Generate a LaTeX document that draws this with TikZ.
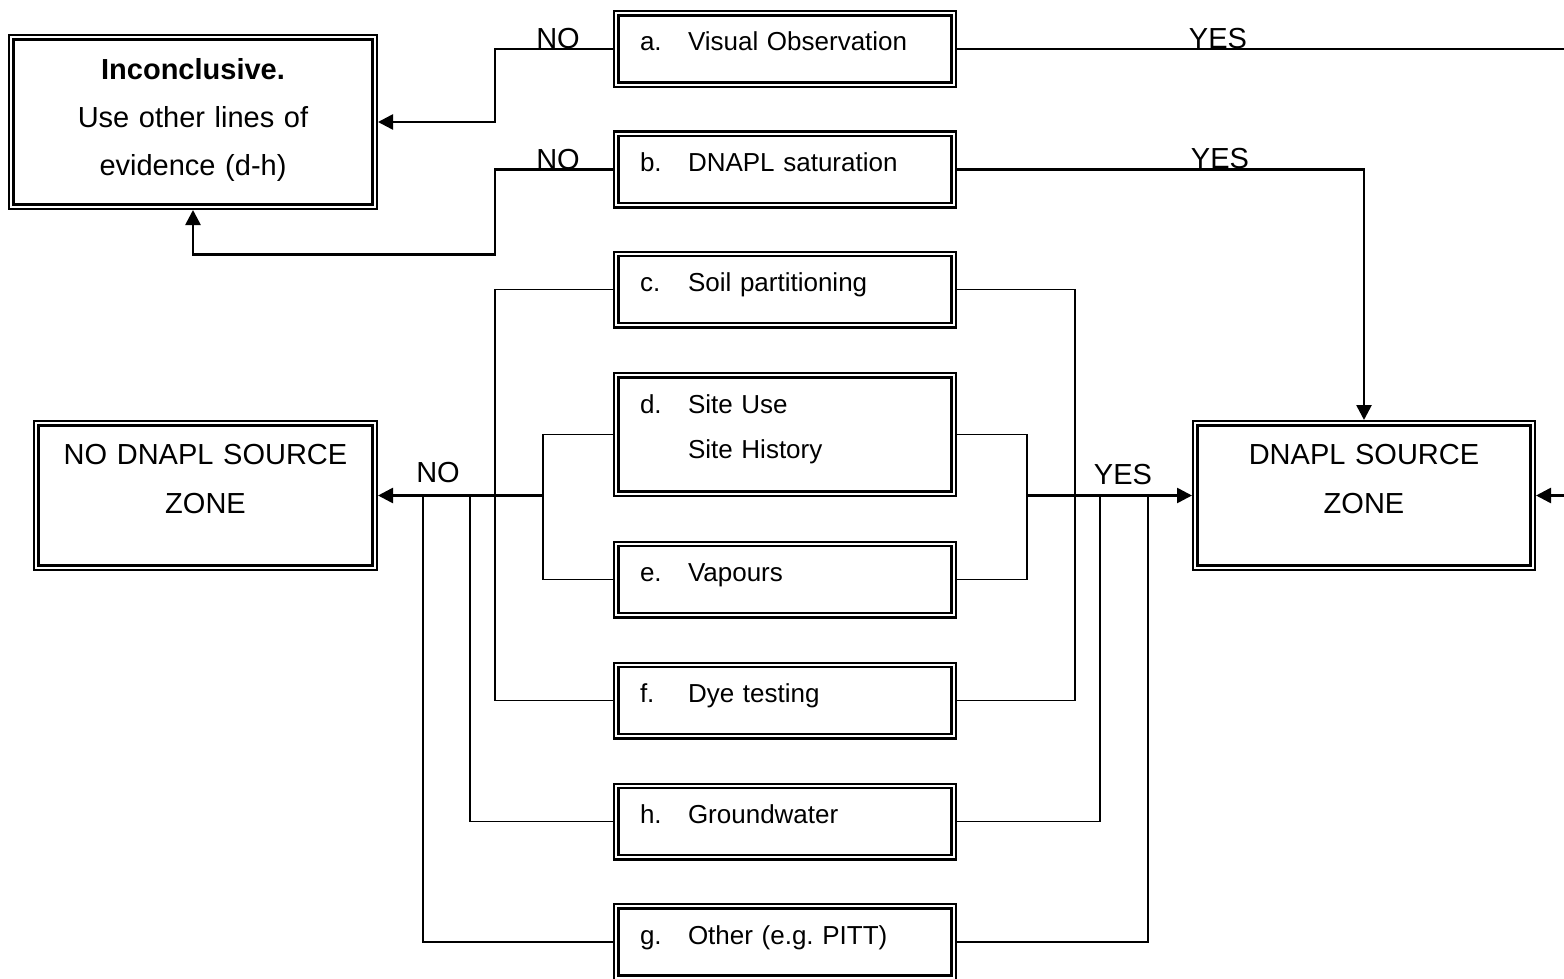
\documentclass[tikz,border=0pt]{standalone}
\usepackage{fontspec}
\setmainfont{Liberation Sans}
\usepackage{tikz}
\usetikzlibrary{
  positioning,
  arrows.meta
}
\newcommand{\tabto}[1]{\makebox[24pt][l]{#1}}
\frenchspacing

\begin{document}
\begin{tikzpicture}[x=0.5pt,y=-0.5pt,>={Triangle[length=7.5pt,width=7.5pt]},
    frame/.style={draw,double,double distance=1pt,line width=1.15pt,outer sep=1.65pt,inner ysep=0pt},
    testbox/.style={frame,inner xsep=11.85pt,text width=145pt,align=left,
      text height=18.85pt,text depth=16.85pt,font=\fontsize{13}{22.5}\selectfont},
    outcome/.style={frame,inner xsep=0pt,align=center,
      text height=20.35pt,text depth=51.85pt,font=\fontsize{14.5}{24.5}\selectfont},
    link/.style={line width=1.3pt},
    branch/.style={line width=0.85pt},
    tag/.style={inner sep=0pt,font=\fontsize{14.5}{17}\selectfont}]
        \useasboundingbox (0,0) rectangle (1564,979);
        % outcomes
        \node[outcome,text width=181.7pt,text height=21.35pt,text depth=63.35pt,
          font=\fontsize{14.5}{24}\selectfont] (incl) at (193,122)
          {{\bfseries Inconclusive.}\\Use other lines of\\evidence (d-h)};
        \node[outcome,text width=169.2pt] (nosrc) at (205.5,495.5) {NO DNAPL SOURCE\\ZONE};
        \node[outcome,text width=168.7pt] (src) at (1364,495.5) {DNAPL SOURCE\\ZONE};
        % lines of evidence
        \node[testbox] (a) at (785,49) {\tabto{a.}Visual Observation};
        \node[testbox] (b) at (785,169.5) {\tabto{b.}DNAPL saturation};
        \node[testbox] (c) at (785,289.5) {\tabto{c.}Soil partitioning};
        \node[testbox,text depth=40.35pt] (d) at (785,434.5) {\tabto{d.}Site Use\\\tabto{}Site History};
        \node[testbox] (e) at (785,579.5) {\tabto{e.}Vapours};
        \node[testbox] (f) at (785,700.5) {\tabto{f.}Dye testing};
        \node[testbox] (h) at (785,821.5) {\tabto{h.}Groundwater};
        \node[testbox] (g) at (785,942) {\tabto{g.}Other (e.g. PITT)};
        % a and b
        \coordinate (aout) at (1564,49);
        \coordinate (rin) at (1564,495.5);
        \draw[link,->] (a.west) -- ++(-118,0) |- (incl.east);
        \draw[link,->] (b.west) -- ++(-118,0) -- ++(0,85) -| (incl.south);
        \draw[link] (a.east) -- (aout);
        \draw[link,->] (b.east) -| (src.north);
        \draw[link,->] (rin) -- (src.east);
        \node[tag] (no1) at (558,39) {NO};
        \node[tag] (no2) at (558,160) {NO};
        \node[tag] (yes1) at (1218,39) {YES};
        \node[tag] (yes2) at (1220,159) {YES};
        % c to g, NO side
        \coordinate (nojoin) at (543,495.5);
        \draw[branch] (c.west) -- ++(-118,0) |- (f.west);
        \draw[branch] (d.west) -- ++(-70,0) |- (e.west);
        \draw[branch] (h.west) -- ++(-143,0) -- ++(0,-326);
        \draw[branch] (g.west) -- ++(-190,0) -- ++(0,-446.5);
        \draw[link,->] (nojoin) -- (nosrc.east);
        \node[tag] (no3) at (438,473) {NO};
        % c to g, YES side
        \coordinate (yesjoin) at (1027,495.5);
        \draw[branch] (c.east) -- ++(118,0) |- (f.east);
        \draw[branch] (d.east) -- ++(70,0) |- (e.east);
        \draw[branch] (h.east) -- ++(143,0) -- ++(0,-326);
        \draw[branch] (g.east) -- ++(191,0) -- ++(0,-446.5);
        \draw[link,->] (yesjoin) -- (src.west);
        \node[tag] (yes3) at (1123,475) {YES};
\end{tikzpicture}
\end{document}
